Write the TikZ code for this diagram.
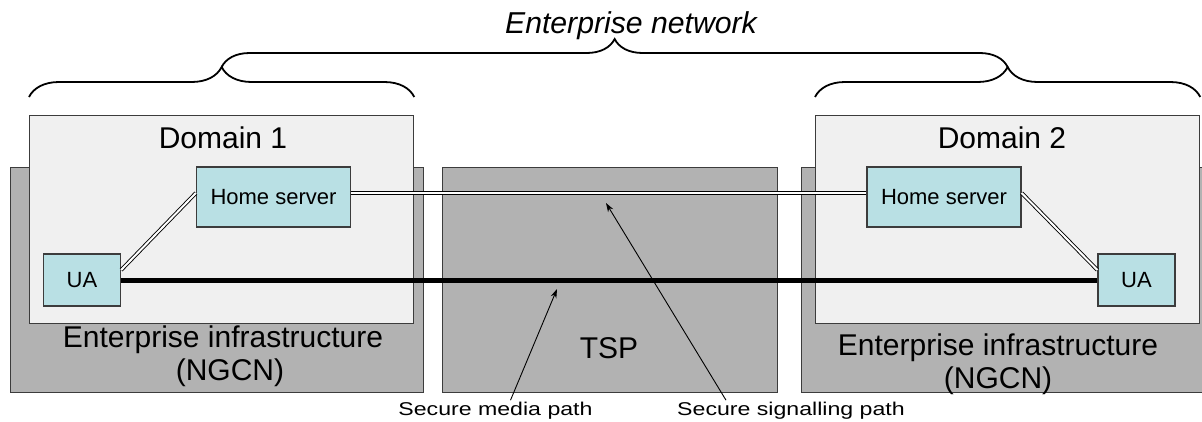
\documentclass[tikz,border=0pt]{standalone}
\usepackage{fontspec}
\setmainfont{Liberation Sans}
\usetikzlibrary{positioning,decorations.pathreplacing,arrows.meta}
\definecolor{infragray}{RGB}{178,178,178}
\definecolor{domfill}{RGB}{240,240,240}
\definecolor{srvfill}{RGB}{185,224,228}
\definecolor{edgegray}{RGB}{60,60,60}

\begin{document}
\begin{tikzpicture}[%
  x=1pt, y=-1pt,
  infra/.style={rectangle, draw=edgegray, fill=infragray, line width=1.3pt, anchor=north west, inner sep=0pt},
  domainbox/.style={rectangle, draw=edgegray, fill=domfill, line width=1.3pt, anchor=north west, inner sep=0pt},
  server/.style={rectangle, draw=edgegray, fill=srvfill, line width=1.3pt, font=\fontsize{22}{26}\selectfont},
  biglabel/.style={font=\fontsize{30}{33}\selectfont, align=center},
  note/.style={font=\fontsize{18.5}{22}\selectfont, xscale=1.25, inner sep=0pt},
  sigline/.style={double=white, double distance=2pt, line width=0.9pt},
  medialine/.style={line width=5pt},
  netbrace/.style={decorate, decoration={brace, amplitude=#1}, line width=1.8pt},
  ]
  \useasboundingbox (0,0) rectangle (1202,421);
  \node[infra, minimum width=413pt, minimum height=225pt] (infraA) at (10,167) {};
  \node[infra, minimum width=335pt, minimum height=225pt] (tsp) at (442,167) {};
  \node[infra, minimum width=401pt, minimum height=225pt] (infraB) at (801,167) {};
  \node[domainbox, minimum width=384pt, minimum height=208pt] (domA) at (29,115) {};
  \node[domainbox, minimum width=384pt, minimum height=208pt] (domB) at (815,115) {};
  \node[biglabel] (domAlbl) at (223,138) {Domain 1};
  \node[biglabel] (domBlbl) at (1002,138) {Domain 2};
  \node[biglabel] (infraAlbl) at (223,356) {Enterprise infrastructure\\\hspace*{14pt}(NGCN)};
  \node[biglabel] (infraBlbl) at (998,364) {Enterprise infrastructure\\(NGCN)};
  \node[biglabel] (tsplbl) at (609,348) {TSP};
  \node[server, minimum width=154pt, minimum height=60pt] (hsA) at (273.5,197) {Home server};
  \node[server, minimum width=154pt, minimum height=60pt] (hsB) at (944,197) {Home server};
  \node[server, minimum width=77pt, minimum height=52pt] (uaA) at (82,280) {UA};
  \node[server, minimum width=77pt, minimum height=52pt] (uaB) at (1136.5,280) {UA};
  \draw[sigline] ([yshift=4pt]hsA.east) -- ([yshift=4pt]hsB.west);
  \draw[sigline] ([yshift=10pt]uaA.east) -- ([yshift=4pt]hsA.west);
  \draw[sigline] ([yshift=4pt]hsB.east) -- ([yshift=10pt]uaB.west);
  \draw[medialine] (uaA.east) -- (uaB.west);
  \coordinate (tipA) at ([yshift=48pt]domA.north);
  \coordinate (tipB) at ([yshift=48pt]domB.north);
  \draw[netbrace=30pt] ([yshift=18pt]domA.north west) -- ([yshift=18pt]domA.north east);
  \draw[netbrace=30pt] ([yshift=18pt]domB.north west) -- ([yshift=18pt]domB.north east);
  \draw[netbrace=28pt] (tipA) -- (tipB);
  \node[font=\fontsize{30.2}{34}\selectfont\itshape] (netlbl) at (631,26) {Enterprise network};
  \node[note] (medianote) at (495.5,411) {Secure media path};
  \node[note] (signote) at (791,411) {Secure signalling path};
  \coordinate (mediaend) at (557,289);
  \coordinate (sigend) at (606,203);
  \draw[-{Stealth[length=9pt,width=6pt]}, line width=0.9pt] ([xshift=15pt,yshift=2pt]medianote.north) -- (mediaend);
  \draw[-{Stealth[length=9pt,width=6pt]}, line width=0.9pt] ([xshift=-65pt,yshift=2pt]signote.north) -- (sigend);
\end{tikzpicture}
\end{document}
